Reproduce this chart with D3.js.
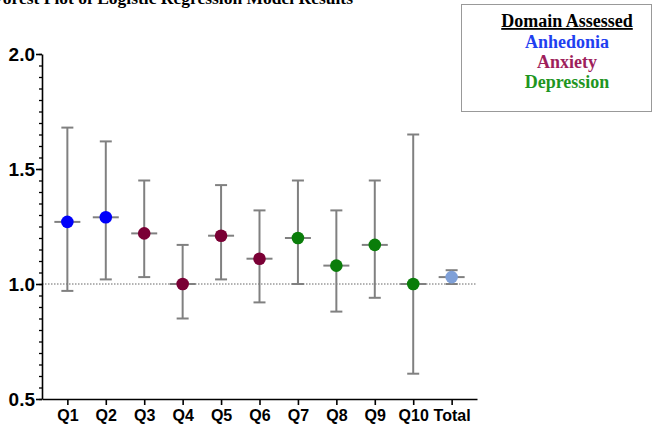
<!DOCTYPE html>
<html>
<head>
<meta charset="utf-8">
<script src="https://cdn.jsdelivr.net/npm/d3@7"></script>
<style>
  body { margin: 0; background: #fff; }
  svg { display: block; }
</style>
</head>
<body>
<div id="chart"></div>
<script>
// data
var items = ["Q1", "Q2", "Q3", "Q4", "Q5", "Q6", "Q7", "Q8", "Q9", "Q10", "Total"];
var domains = ["Anhedonia", "Anhedonia", "Anxiety", "Anxiety", "Anxiety", "Anxiety",
               "Depression", "Depression", "Depression", "Depression", "Total"];
var oddsRatio = [1.27, 1.29, 1.22, 1.00, 1.21, 1.11, 1.20, 1.08, 1.17, 1.00, 1.03];
var ciLower   = [0.97, 1.02, 1.03, 0.85, 1.02, 0.92, 1.00, 0.88, 0.94, 0.61, 1.00];
var ciUpper   = [1.68, 1.62, 1.45, 1.17, 1.43, 1.32, 1.45, 1.32, 1.45, 1.65, 1.06];
var yTicks = [0.5, 1.0, 1.5, 2.0];
var legendItems = ["Anhedonia", "Anxiety", "Depression"];

var dotColor = { Anhedonia: "#0000fa", Anxiety: "#7a0035", Depression: "#0a7d0a", Total: "#7fa0d8" };
var legendColor = { Anhedonia: "#1f3ff0", Anxiety: "#9e1f5c", Depression: "#1f961f" };

var width = 655, height = 442;

var svg = d3.select("#chart").append("svg")
    .attr("width", width)
    .attr("height", height);

var x = d3.scalePoint().domain(items).range([42, 477]).padding(0.66);
var y = d3.scaleLinear().domain([0.5, 2.0]).range([399, 54]);

var data = items.map(function (d, i) {
    return { item: d, domain: domains[i], or: oddsRatio[i], lo: ciLower[i], hi: ciUpper[i] };
});

// title, partly cut off at the top left like the source
svg.append("text")
    .attr("x", 353)
    .attr("y", 4)
    .attr("text-anchor", "end")
    .style("font-family", "'Liberation Serif', 'Times New Roman', serif")
    .style("font-weight", "bold")
    .style("font-size", "17.5px")
    .text("Forest Plot of Logistic Regression Model Results");

// reference line at OR = 1
svg.append("line")
    .attr("x1", 42).attr("x2", 477)
    .attr("y1", y(1)).attr("y2", y(1))
    .attr("stroke", "#666")
    .attr("stroke-width", 1)
    .attr("stroke-dasharray", "1.5,1.5");

// minor y ticks
var minor = d3.range(0.5, 2.0001, 0.05);
svg.append("g")
    .attr("transform", "translate(42,0)")
    .call(d3.axisLeft(y).tickValues(minor).tickSize(3).tickFormat(""))
    .call(function (g) {
        g.select(".domain").remove();
        g.selectAll("line").attr("stroke", "#000").attr("stroke-width", 1.3);
    });

// y axis
svg.append("g")
    .attr("transform", "translate(42,0)")
    .call(d3.axisLeft(y).tickValues(yTicks).tickSize(6).tickSizeOuter(0).tickPadding(1)
        .tickFormat(d3.format(".1f")))
    .call(function (g) {
        g.select(".domain").attr("stroke", "#000").attr("stroke-width", 1.6);
        g.selectAll("line").attr("stroke", "#000").attr("stroke-width", 1.6);
        g.selectAll("text")
            .attr("dy", "0.36em")
            .style("font-family", "'Liberation Sans', Arial, sans-serif")
            .style("font-weight", "bold")
            .style("font-size", "19px")
            .attr("fill", "#000");
    });

// x axis
svg.append("g")
    .attr("transform", "translate(0," + y(0.5) + ")")
    .call(d3.axisBottom(x).tickSize(6).tickSizeOuter(0).tickPadding(5))
    .call(function (g) {
        g.select(".domain").attr("stroke", "#000").attr("stroke-width", 1.6);
        g.selectAll("line").attr("stroke", "#000").attr("stroke-width", 1.6);
        g.selectAll("text")
            .style("font-family", "'Liberation Sans', Arial, sans-serif")
            .style("font-weight", "bold")
            .style("font-size", "16px")
            .attr("transform", function () {
                var t = d3.select(this);
                return "translate(" + t.attr("x") + ",0) scale(0.93,1)";
            })
            .attr("fill", "#000");
    });

// error bars
var bars = svg.append("g").selectAll("g")
    .data(data)
    .enter().append("g");

bars.append("line")
    .attr("x1", function (d) { return x(d.item); })
    .attr("x2", function (d) { return x(d.item); })
    .attr("y1", function (d) { return y(d.lo); })
    .attr("y2", function (d) { return y(d.hi); })
    .attr("stroke", "#808080").attr("stroke-width", 2);

bars.selectAll(".cap")
    .data(function (d) { return [[d.item, d.lo], [d.item, d.hi]]; })
    .enter().append("line")
    .attr("class", "cap")
    .attr("x1", function (d) { return x(d[0]) - 6; })
    .attr("x2", function (d) { return x(d[0]) + 6; })
    .attr("y1", function (d) { return y(d[1]); })
    .attr("y2", function (d) { return y(d[1]); })
    .attr("stroke", "#808080").attr("stroke-width", 2);

bars.append("line")
    .attr("x1", function (d) { return x(d.item) - 13; })
    .attr("x2", function (d) { return x(d.item) + 13; })
    .attr("y1", function (d) { return y(d.or); })
    .attr("y2", function (d) { return y(d.or); })
    .attr("stroke", "#808080").attr("stroke-width", 2);

bars.append("circle")
    .attr("cx", function (d) { return x(d.item); })
    .attr("cy", function (d) { return y(d.or); })
    .attr("r", 6.3)
    .attr("fill", function (d) { return dotColor[d.domain]; });

// legend box
var legend = svg.append("g");
legend.append("rect")
    .attr("x", 461.5).attr("y", 4.5)
    .attr("width", 190).attr("height", 107)
    .attr("fill", "#fff")
    .attr("stroke", "#999")
    .attr("stroke-width", 1);

legend.append("text")
    .attr("x", 567).attr("y", 27)
    .attr("text-anchor", "middle")
    .style("font-family", "'Liberation Serif', 'Times New Roman', serif")
    .style("font-weight", "bold")
    .style("font-size", "18px")
    .style("text-decoration", "underline")
    .text("Domain Assessed");

legend.selectAll(".item")
    .data(legendItems)
    .enter().append("text")
    .attr("class", "item")
    .attr("x", 567)
    .attr("y", function (d, i) { return 48 + i * 20; })
    .attr("text-anchor", "middle")
    .style("font-family", "'Liberation Serif', 'Times New Roman', serif")
    .style("font-weight", "bold")
    .style("font-size", "18px")
    .attr("fill", function (d) { return legendColor[d]; })
    .text(function (d) { return d; });
</script>
</body>
</html>
